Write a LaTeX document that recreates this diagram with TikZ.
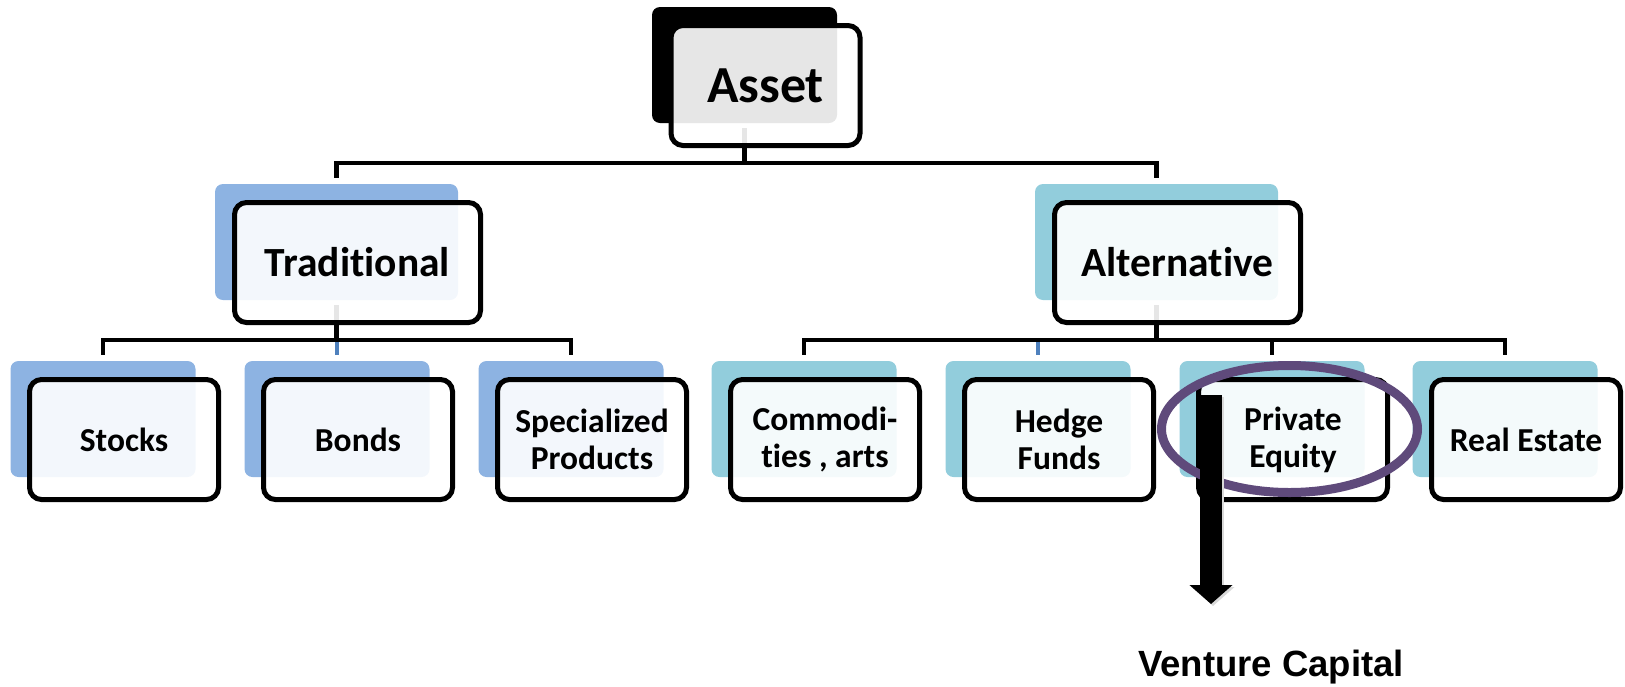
\documentclass[tikz,border=0pt]{standalone}
\usepackage{fontspec}
\setmainfont{Carlito}[Ligatures=NoCommon]
\newfontfamily\vcfont{Liberation Sans}
\usetikzlibrary{arrows.meta,calc}
\definecolor{tradblue}{HTML}{8DB3E2}
\definecolor{altaqua}{HTML}{92CDDC}
\definecolor{stubblue}{HTML}{4F81BD}
\definecolor{ringpurple}{HTML}{5F4A7B}
\begin{document}
\begin{tikzpicture}[x=1pt,y=-1pt,
  backbox/.style={rounded corners=8pt, inner sep=0pt, minimum height=116pt},
  bsmall/.style={minimum width=185pt},
  bwide/.style={minimum width=243pt},
  frontbox/.style={draw=black, line width=5pt, rounded corners=12pt, fill=white,
    fill opacity=0.9, text opacity=1, inner sep=0pt, minimum height=120pt, align=center},
  fsmall/.style={minimum width=189pt},
  fwide/.style={minimum width=246pt},
  lvlone/.style={font=\bfseries\fontsize{52}{56}\selectfont},
  lvltwo/.style={font=\bfseries\fontsize{41.5}{45}\selectfont},
  lvlthree/.style={font=\bfseries\fontsize{33.5}{37}\selectfont},
  conn/.style={line width=4.5pt, draw=black},
  stub/.style={line width=4.5pt, draw=stubblue},
  bigarrow/.style={line width=22pt, -{Triangle[width=42pt,length=19pt]}},
]
\path[use as bounding box] (0,0) rectangle (1625,686);

% back boxes
\node[backbox,bsmall,fill=black] (aback) at (744.5,65) {};
\node[backbox,bwide,fill=tradblue] (tback) at (336.5,242) {};
\node[backbox,bwide,fill=altaqua] (lback) at (1156.5,242) {};
\node[backbox,bsmall,fill=tradblue] (c1) at (103,419) {};
\node[backbox,bsmall,fill=tradblue] (c2) at (337,419) {};
\node[backbox,bsmall,fill=tradblue] (c3) at (571,419) {};
\node[backbox,bsmall,fill=altaqua] (c4) at (804,419) {};
\node[backbox,bsmall,fill=altaqua] (c5) at (1038,419) {};
\node[backbox,bsmall,fill=altaqua] (c6) at (1272,419) {};
\node[backbox,bsmall,fill=altaqua] (c7) at (1505,419) {};

% connectors
\coordinate (abus) at ([yshift=-40pt]aback.south);
\coordinate (tbus) at ([yshift=-40pt]tback.south);
\coordinate (lbus) at ([yshift=-40pt]lback.south);
\draw[conn] ([yshift=-5pt]aback.south) -- (abus);
\draw[conn] ([yshift=6pt]tback.north) |- (abus) -| ([yshift=6pt]lback.north);
\draw[conn] ([yshift=-5pt]tback.south) -- (tbus);
\draw[conn] ([yshift=-5pt]lback.south) -- (lbus);
\draw[conn] ([yshift=6pt]c1.north) |- (tbus) -| ([yshift=6pt]c3.north);
\draw[stub] ([yshift=6pt]c2.north) -- ([yshift=-2.25pt]c2.north |- tbus);
\draw[conn] ([yshift=6pt]c4.north) |- (lbus) -| ([yshift=6pt]c7.north);
\draw[conn] ([yshift=6pt]c6.north) -- (c6.north |- lbus);
\draw[stub] ([yshift=6pt]c5.north) -- ([yshift=-2.25pt]c5.north |- lbus);

% front boxes with text
\node[frontbox,fsmall,lvlone] (asset) at ($(aback.center)+(21,20.5)$) {Asset};
\node[frontbox,fwide,lvltwo] (trad) at ($(tback.center)+(21,20.5)$) {Traditional};
\node[frontbox,fwide,lvltwo] (alt) at ($(lback.center)+(21,20.5)$) {Alternative};
\node[frontbox,fsmall,lvlthree] (stocks) at ($(c1.center)+(21,20.5)$) {Stocks};
\node[frontbox,fsmall,lvlthree] (bonds) at ($(c2.center)+(21,20.5)$) {Bonds};
\node[frontbox,fsmall,lvlthree] (spec) at ($(c3.center)+(21,20.5)$) {Specialized\\Products};
\node[frontbox,fsmall,lvlthree] (comm) at ($(c4.center)+(21,20.5)$) {Commodi-\\ties , arts};
\node[frontbox,fsmall,lvlthree] (hedge) at ($(c5.center)+(21,20.5)$) {Hedge\\Funds};
\node[frontbox,fsmall,lvlthree] (pe) at ($(c6.center)+(21,20.5)$) {Private\\Equity};
\node[frontbox,fsmall,lvlthree] (re) at ($(c7.center)+(21,20.5)$) {Real Estate};

% highlight ring
\draw[ringpurple, line width=9pt] (1289.5,429) ellipse [x radius=128, y radius=63.5];

% arrow to venture capital
\node[font=\vcfont\bfseries\fontsize{36.5}{40}\selectfont, anchor=base] (vc) at (1271,676) {Venture Capital};
\coordinate (atop) at (1211,395);
\coordinate (atip) at (1211,604);
\draw[bigarrow, black!15] ([xshift=2pt,yshift=-2pt]atop) -- ([xshift=2pt,yshift=-2pt]atip);
\draw[bigarrow, black] (atop) -- (atip);
\end{tikzpicture}
\end{document}
